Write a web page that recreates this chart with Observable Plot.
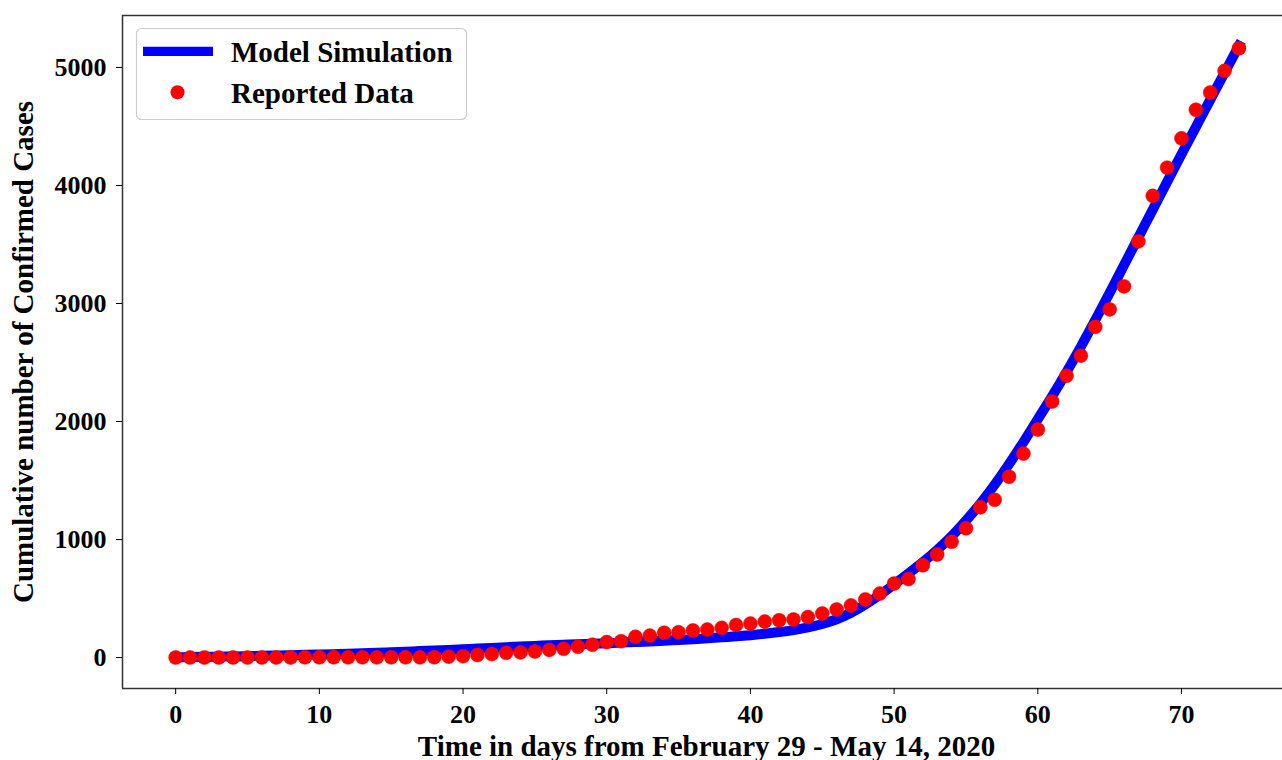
<!DOCTYPE html>
<html>
<head>
<meta charset="utf-8">
<script src="https://cdn.jsdelivr.net/npm/d3@7"></script>
<script src="https://cdn.jsdelivr.net/npm/@observablehq/plot@0.6"></script>
<style>
html, body { margin: 0; padding: 0; background: #fff; overflow: hidden; }
</style>
</head>
<body>
<div id="chart"></div>
<script>
const days = [0,1,2,3,4,5,6,7,8,9,10,11,12,13,14,15,16,17,18,19,20,21,22,23,24,25,26,27,28,29,30,31,32,33,34,35,36,37,38,39,40,41,42,43,44,45,46,47,48,49,50,51,52,53,54,55,56,57,58,59,60,61,62,63,64,65,66,67,68,69,70,71,72,73,74];

const reported = [1,1,1,1,1,1,1,1,1,2,2,2,2,2,2,2,2,2,3,8,12,22,30,40,44,51,65,74,92,109,131,139,176,186,210,214,230,237,252,276,288,305,316,323,343,373,407,442,493,542,627,665,782,873,981,1095,1273,1337,1532,1728,1932,2170,2388,2558,2802,2950,3145,3526,3912,4151,4399,4641,4787,4971,5162];

const model = [2,4,6,8,10,12,15,17,20,23,26,29,33,37,41,45,50,55,60,65,70,76,82,88,94,99,104,109,113,118,122,127,132,137,143,149,156,164,172,180,190,202,216,233,255,285,325,380,450,530,620,712,808,912,1027,1160,1305,1465,1640,1825,2020,2215,2420,2635,2860,3090,3325,3560,3795,4030,4265,4495,4725,4955,5184];

const xTicks = [0,10,20,30,40,50,60,70];
const yTicks = [0,1000,2000,3000,4000,5000];
const seriesNames = ["Model Simulation", "Reported Data"];
const xLabel = "Time in days from February 29 - May 14, 2020";
const yLabel = "Cumulative number of Confirmed Cases";

const modelData = days.map((d, i) => ({day: d, cases: model[i]}));
const reportedData = days.map((d, i) => ({day: d, cases: reported[i]}));

const xMin = -3.7, xMax = 77.03, yMin = -262, yMax = 5440;
const font = "'Liberation Serif', 'Times New Roman', serif";
const spine = {stroke: "#333", strokeWidth: 1.5};

const chart = Plot.plot({
  width: 1282,
  height: 760,
  marginLeft: 122,
  marginRight: 0,
  marginTop: 15,
  marginBottom: 72,
  style: {fontFamily: font, fontSize: "26px", fontWeight: "bold", background: "#fff", color: "#000", overflow: "visible"},
  x: {domain: [xMin, xMax]},
  y: {domain: [yMin, yMax]},
  marks: [
    Plot.line(modelData, {x: "day", y: "cases", stroke: "#0000ff", strokeWidth: 10, curve: "catmull-rom", strokeLinecap: "square"}),
    Plot.dot(reportedData, {x: "day", y: "cases", r: 7, fill: "#ff0000", stroke: "#ff0000", strokeWidth: 0.5}),
    Plot.ruleX([xMin], spine),
    Plot.ruleY([yMin], spine),
    Plot.ruleY([yMax], spine),
    Plot.axisX({ticks: xTicks, tickSize: 6, tickPadding: 10, label: null, tickFormat: d3.format("d")}),
    Plot.axisY({ticks: yTicks, tickSize: 6, tickPadding: 10, label: null, tickFormat: d3.format("d")}),
    Plot.text([xLabel], {frameAnchor: "bottom", textAnchor: "middle", dx: 4, dy: 58, lineAnchor: "middle", fontSize: 29}),
    Plot.text([yLabel], {frameAnchor: "left", textAnchor: "middle", dx: -99, rotate: -90, lineAnchor: "middle", fontSize: 29})
  ]
});

document.getElementById("chart").appendChild(chart);

// Legend box inside the axes (upper left)
const svg = d3.select(chart);
const lg = svg.append("g").attr("font-family", font).attr("font-size", 29).attr("font-weight", "bold");
lg.append("rect")
  .attr("x", 136.5).attr("y", 28.5).attr("width", 330).attr("height", 91).attr("rx", 5)
  .attr("fill", "#fff").attr("fill-opacity", 0.8).attr("stroke", "#cccccc").attr("stroke-width", 1.2);
lg.append("line")
  .attr("x1", 143).attr("x2", 213).attr("y1", 51.3).attr("y2", 51.3)
  .attr("stroke", "#0000ff").attr("stroke-width", 9.3);
lg.append("circle")
  .attr("cx", 177.5).attr("cy", 92.3).attr("r", 7).attr("fill", "#ff0000");
lg.selectAll("text.entry").data(seriesNames).join("text")
  .attr("class", "entry")
  .attr("x", 231)
  .attr("y", (d, i) => i === 0 ? 51.5 : 92.5)
  .attr("dy", "0.35em")
  .attr("text-anchor", "start")
  .attr("fill", "#000")
  .text(d => d);
</script>
</body>
</html>
